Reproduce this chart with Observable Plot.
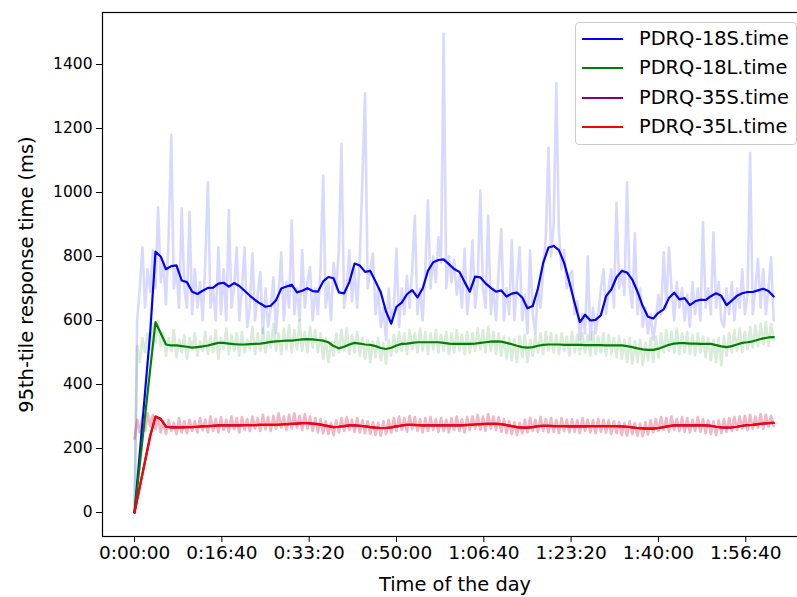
<!DOCTYPE html>
<html>
<head>
<meta charset="utf-8">
<script src="https://cdn.jsdelivr.net/npm/d3@7"></script>
<script src="https://cdn.jsdelivr.net/npm/@observablehq/plot@0.6"></script>
<style>
  html, body { margin: 0; padding: 0; background: white; }
  #wrap { position: relative; width: 797px; height: 597px; overflow: hidden; font-family: "DejaVu Sans", sans-serif; }
  #wrap svg { max-width: none; }
  #legend { position: absolute; left: 575px; top: 22px; width: 222px; height: 123px; box-sizing: border-box;
            border: 1px solid #cccccc; border-radius: 4px; background: rgba(255,255,255,0.8); }
  .row { position: absolute; left: 0; height: 0; }
  .row .h { position: absolute; left: 6px; top: -1px; width: 41px; height: 2.2px; }
  .row .t { position: absolute; left: 63px; top: -12px; font-size: 19.4px; line-height: 24px; white-space: nowrap; color: #000; }
</style>
</head>
<body>
<div id="wrap"></div>
<script>
// sample grids (seconds since start)
const rawTimes = d3.range(0, 7321, 30);
const smoothTimes = d3.range(0, 7321, 60);

const xTicks = [0, 1000, 2000, 3000, 4000, 5000, 6000, 7000];
const yTicks = [0, 200, 400, 600, 800, 1000, 1200, 1400];

const seriesNames = ["PDRQ-18S.time", "PDRQ-18L.time", "PDRQ-35S.time", "PDRQ-35L.time"];
const seriesColors = ["#0000ff", "#008000", "#800080", "#ff0000"];

// raw 95th-percentile samples (every 30 s)
const raw18S = [
  0,600,700,829,640,760,690,820,700,954,
  720,780,650,860,1180,700,760,640,950,700,
  640,940,620,760,640,720,600,780,1032,640,
  700,600,829,620,760,600,944,640,700,829,
  600,700,829,580,640,810,600,680,751,560,
  700,580,640,735,560,680,813,600,720,640,
  912,620,700,600,820,640,720,767,600,700,
  620,760,1053,640,720,600,780,700,820,1152,
  640,700,819,660,760,640,800,1048,1310,700,
  760,809,620,700,580,640,540,700,600,640,
  824,580,700,620,740,640,760,928,620,700,
  600,760,975,700,800,720,860,780,1496,700,
  800,720,790,680,740,640,824,620,700,850,
  640,720,1006,700,640,928,620,700,600,760,
  886,600,700,620,850,600,720,829,600,680,
  560,819,620,560,700,640,760,860,1140,800,
  900,1342,880,760,820,700,740,755,620,660,
  540,620,560,800,540,640,560,620,700,760,
  620,700,760,640,967,700,760,680,1032,700,
  640,873,620,700,580,640,560,620,540,600,
  680,620,813,640,829,700,600,720,640,700,
  600,680,580,720,620,700,600,907,640,700,
  620,876,640,720,600,580,700,620,720,600,
  700,640,760,620,680,1124,620,700,793,640,
  761,620,700,798,600
];
const raw18L = [
  0,520,470,545,500,560,510,590,530,600,
  520,560,490,545,505,570,485,540,500,555,
  480,545,510,560,490,535,505,565,495,550,
  500,570,480,545,510,575,495,555,505,560,
  490,565,500,540,510,580,495,560,505,575,
  500,565,515,590,505,560,495,575,510,585,
  500,570,510,600,505,565,500,580,515,570,
  500,560,480,545,470,530,490,560,500,570,
  505,575,495,555,500,565,490,545,480,540,
  470,535,485,545,475,530,465,540,490,555,
  500,565,505,560,495,570,510,560,500,575,
  505,565,495,560,510,570,500,555,505,565,
  495,560,500,570,505,555,495,565,500,560,
  505,575,510,570,500,580,505,565,495,560,
  490,550,480,545,475,540,470,550,485,555,
  470,540,490,555,500,560,495,565,505,560,
  500,555,495,560,505,550,490,565,500,555,
  495,560,500,555,490,565,495,550,500,560,
  490,555,495,545,485,550,480,540,470,545,
  465,535,470,540,460,530,475,545,470,550,
  485,560,500,570,505,565,500,575,495,560,
  500,565,495,555,490,560,500,550,485,545,
  475,540,470,545,460,550,490,560,500,570,
  505,575,500,565,510,580,515,585,520,590,
  525,595,520,590,540
];
const raw35L = [
  230,290,250,300,255,310,270,305,260,295,
  250,285,245,290,255,280,245,295,250,285,
  248,290,255,285,250,295,258,290,250,300,
  255,292,250,298,258,290,252,300,260,295,
  250,298,258,292,255,300,262,295,255,305,
  260,298,255,302,262,310,265,300,258,305,
  262,310,265,302,258,308,262,300,255,295,
  250,292,248,285,245,280,242,288,250,295,
  255,298,258,290,252,295,250,288,248,285,
  245,282,242,280,240,285,245,290,250,295,
  255,300,258,295,252,302,260,298,255,292,
  250,295,255,298,258,292,252,295,255,290,
  250,295,258,300,255,292,250,298,258,300,
  262,305,258,300,255,308,262,300,258,298,
  252,292,248,285,245,282,242,280,248,290,
  250,295,255,290,252,298,255,292,250,295,
  252,290,248,295,255,290,250,292,252,288,
  248,295,255,290,250,288,248,292,252,290,
  250,288,245,285,248,282,242,280,240,285,
  245,280,240,278,238,282,244,288,250,292,
  255,298,258,295,252,300,258,292,255,298,
  252,295,250,290,255,298,252,292,248,288,
  245,285,242,288,248,292,252,295,255,298,
  258,300,262,302,258,305,262,300,265,308,
  262,305,268,302,270
];
const raw35S = raw35L;

// smoothed series (every 60 s)
const smooth18S = [
  0,185,375,565,815,800,760,770,772,725,
  720,690,683,693,702,703,715,718,706,717,
  708,693,678,664,653,643,646,663,700,706,
  712,688,693,701,692,690,722,736,732,688,
  685,720,778,772,752,755,722,688,628,590,
  643,656,682,695,672,700,755,782,789,791,
  776,761,752,720,690,737,735,716,702,690,
  694,675,684,687,672,638,645,700,780,828,
  833,820,780,720,655,595,618,600,602,616,
  676,697,735,755,750,728,690,645,612,606,
  624,635,670,687,666,670,648,660,665,664,
  676,685,677,648,662,677,685,689,689,694,
  699,692,675
];
const smooth18L = [
  0,150,300,450,595,560,525,522,522,520,
  518,515,517,519,522,526,530,530,528,526,
  525,525,526,527,528,530,533,535,536,537,
  537,539,541,542,541,539,537,532,520,513,
  518,525,530,528,525,524,520,514,511,515,
  522,527,528,530,532,532,532,532,532,530,
  528,527,527,527,527,528,530,532,534,535,
  534,530,526,521,517,515,517,521,524,525,
  525,525,524,524,524,524,523,523,523,523,
  522,522,522,522,520,517,513,510,508,508,
  512,518,524,528,529,529,528,528,527,527,
  527,523,519,517,520,525,530,532,535,540,
  544,547,548
];
const smooth35L = [
  0,80,160,240,300,292,268,266,266,266,
  267,267,268,269,270,271,272,272,272,272,
  272,273,273,273,274,274,274,274,275,276,
  277,278,279,279,278,276,273,270,267,268,
  270,272,272,271,269,267,265,264,264,266,
  269,272,274,274,273,272,272,272,272,272,
  272,272,272,273,274,275,276,277,277,277,
  276,273,270,267,265,265,267,270,271,271,
  270,270,270,269,269,269,269,270,270,270,
  270,270,270,269,268,266,264,263,262,262,
  264,267,270,272,272,272,272,272,272,272,
  271,268,266,265,266,268,271,273,274,276,
  278,279,280
];
const smooth35S = smooth35L;

const rawList = [raw18S, raw18L, raw35S, raw35L];
const smoothList = [smooth18S, smooth18L, smooth35S, smooth35L];

const toRows = (arr, ts) => arr.map((v, i) => ({t: ts[i], v}));

const fmt = s => `${Math.floor(s / 3600)}:${String(Math.floor((s % 3600) / 60)).padStart(2, "0")}:${String(s % 60).padStart(2, "0")}`;

const rawMarks = rawList.map((arr, k) =>
  Plot.line(toRows(arr, rawTimes), {x: "t", y: "v", stroke: seriesColors[k], strokeOpacity: 0.15, strokeWidth: 2.6}));
const smoothMarks = smoothList.map((arr, k) =>
  Plot.line(toRows(arr, smoothTimes), {x: "t", y: "v", stroke: seriesColors[k], strokeWidth: 2.2}));

const FS = 19.4;

const chart = Plot.plot({
  width: 807,
  height: 597,
  marginLeft: 102,
  marginRight: 0,
  marginTop: 12,
  marginBottom: 61,
  style: {fontFamily: "DejaVu Sans", fontSize: FS + "px", color: "black", background: "white", maxWidth: "none"},
  x: {domain: [-367, 7707]},
  y: {domain: [-75, 1562.5]},
  marks: [
    ...rawMarks,
    ...smoothMarks,
    Plot.frame({stroke: "black", strokeWidth: 1.2}),
    Plot.axisX({ticks: xTicks, tickFormat: fmt, tickSize: 6, tickPadding: 3, fontSize: 18.5, label: null, stroke: "black", fill: "black"}),
    Plot.axisY({ticks: yTicks, tickFormat: d => String(d), tickSize: 6, tickPadding: 4, fontSize: 15.5, label: null, stroke: "black", fill: "black"}),
    Plot.text(["Time of the day"], {frameAnchor: "bottom", dy: 48, lineAnchor: "middle", textAnchor: "middle", fontSize: FS, fill: "black"}),
    Plot.text(["95th-tile response time (ms)"], {frameAnchor: "left", dx: -76, rotate: -90, lineAnchor: "middle", textAnchor: "middle", fontSize: FS, fill: "black"})
  ]
});

const wrap = document.getElementById("wrap");
wrap.appendChild(chart);

const legend = document.createElement("div");
legend.id = "legend";
const rowYs = [16, 45.3, 74.7, 104];
seriesNames.forEach((name, k) => {
  const row = document.createElement("div");
  row.className = "row";
  row.style.top = rowYs[k] + "px";
  const h = document.createElement("div");
  h.className = "h";
  h.style.background = seriesColors[k];
  const t = document.createElement("div");
  t.className = "t";
  t.textContent = name;
  row.appendChild(h);
  row.appendChild(t);
  legend.appendChild(row);
});
wrap.appendChild(legend);
</script>
</body>
</html>
